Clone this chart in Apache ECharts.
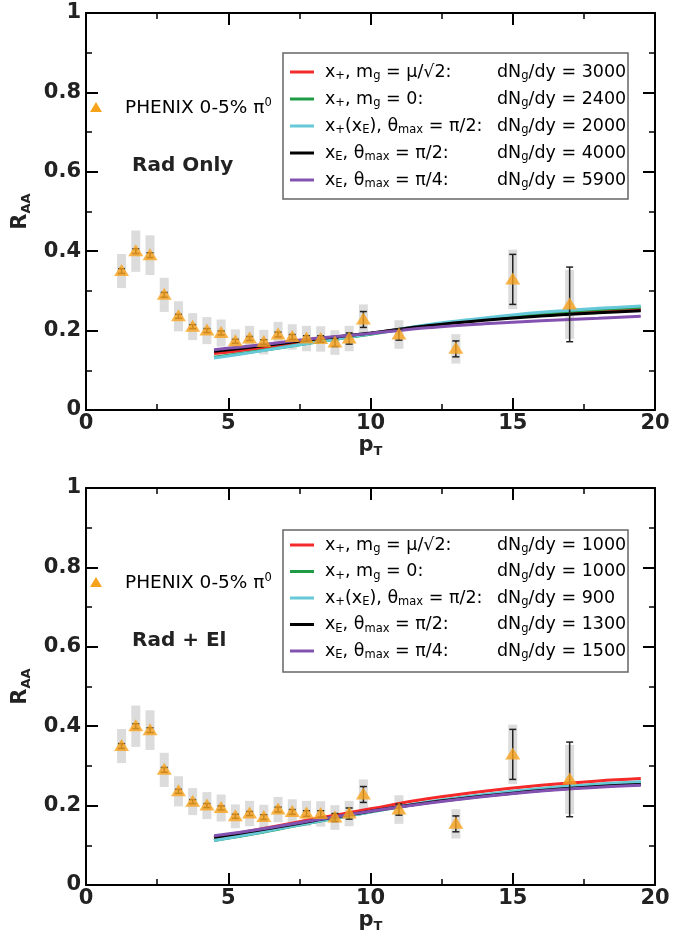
<!DOCTYPE html>
<html>
<head>
<meta charset="utf-8">
<script src="https://cdn.jsdelivr.net/npm/echarts@6/dist/echarts.min.js"></script>
<style>
html,body{margin:0;padding:0;background:#fff;}
#chart{width:691px;height:937px;}
</style>
</head>
<body>
<div id="chart"></div>
<script>
// ---- data ----
const pT = [1.25,1.75,2.25,2.75,3.25,3.75,4.25,4.75,5.25,5.75,6.25,6.75,7.25,7.75,8.25,8.75,9.25,9.75,11,13,15,17];
const raa = [0.35,0.40,0.39,0.29,0.236,0.21,0.20,0.194,0.173,0.18,0.171,0.19,0.184,0.18,0.179,0.17,0.18,0.228,0.19,0.154,0.329,0.266];
const statErr = [0.006,0.006,0.006,0.006,0.005,0.005,0.005,0.005,0.005,0.005,0.006,0.006,0.006,0.007,0.008,0.01,0.014,0.02,0.014,0.02,0.063,0.094];
const sysErr = [0.043,0.052,0.05,0.043,0.038,0.034,0.034,0.034,0.03,0.032,0.031,0.032,0.032,0.032,0.032,0.031,0.032,0.038,0.036,0.037,0.075,0.087];

const curveX = [4.5,6,8,10,12,14,16,18,19.5];
// Rad only
const radRed    = [0.142,0.155,0.175,0.193,0.213,0.228,0.240,0.248,0.254];
const radGreen  = [0.133,0.148,0.170,0.191,0.213,0.230,0.243,0.253,0.259];
const radCyan   = [0.131,0.147,0.170,0.192,0.215,0.232,0.246,0.256,0.262];
const radBlack  = [0.148,0.160,0.178,0.194,0.212,0.226,0.237,0.245,0.250];
const radPurple = [0.152,0.163,0.180,0.193,0.207,0.217,0.225,0.231,0.236];
// Rad + El
const elRed    = [0.120,0.139,0.166,0.192,0.217,0.236,0.251,0.262,0.268];
const elGreen  = [0.112,0.130,0.158,0.184,0.208,0.227,0.242,0.253,0.259];
const elCyan   = [0.112,0.131,0.158,0.184,0.209,0.228,0.243,0.254,0.260];
const elBlack  = [0.120,0.137,0.162,0.186,0.207,0.224,0.238,0.248,0.253];
const elPurple = [0.124,0.139,0.163,0.186,0.206,0.223,0.237,0.246,0.251];

const legendTopLabels = ['3000','2400','2000','4000','5900'];
const legendBotLabels = ['1000','1000','900','1300','1500'];
const yTickLabels = ['0','0.2','0.4','0.6','0.8','1'];

// ---- styles ----
const FONT = 'DejaVu Sans, Verdana, sans-serif';
const colors = {red:'#f42a2a', green:'#1f9a45', cyan:'#66c9d9', black:'#000000', purple:'#8352b0'};
const ORANGE = '#f7a21b';

const chart = echarts.init(document.getElementById('chart'), null, {renderer:'canvas'});

const grids = [
  {left:86, top:13, width:569, height:397},
  {left:86, top:488, width:569, height:397}
];

function mkXAxes(gi){
  const base = {
    gridIndex:gi, type:'value', min:0, max:20, interval:5,
    splitLine:{show:false},
    axisLine:{show:true, onZero:false, lineStyle:{color:'#000', width:2}},
    axisTick:{show:true, inside:true, length:12, lineStyle:{color:'#000', width:2}},
    minorTick:{show:true, splitNumber:2, length:6, lineStyle:{color:'#000', width:1.5}}
  };
  return [
    Object.assign({}, base, {
      position:'bottom',
      axisLabel:{fontSize:21, fontWeight:'bold', color:'#222', fontFamily:FONT, margin:3},
      name:'{m|p}{s|T}', nameLocation:'middle', nameGap:20,
      nameTextStyle:{rich:{
        m:{fontSize:21, fontWeight:'bold', color:'#222', fontFamily:FONT},
        s:{fontSize:13, fontWeight:'bold', color:'#222', fontFamily:FONT, padding:[12,0,0,0]}
      }}
    }),
    Object.assign({}, base, {position:'top', axisLabel:{show:false}})
  ];
}
function mkYAxes(gi){
  const base = {
    gridIndex:gi, type:'value', min:0, max:1, interval:0.2,
    splitLine:{show:false},
    axisLine:{show:true, onZero:false, lineStyle:{color:'#000', width:2}},
    axisTick:{show:true, inside:true, length:12, lineStyle:{color:'#000', width:2}},
    minorTick:{show:true, splitNumber:2, length:6, lineStyle:{color:'#000', width:1.5}}
  };
  return [
    Object.assign({}, base, {
      position:'left',
      axisLabel:{fontSize:21, fontWeight:'bold', color:'#222', fontFamily:FONT, margin:5,
        formatter:(v)=>yTickLabels[Math.round(v/0.2)]},
      name:'{m|R}{s|AA}', nameLocation:'middle', nameGap:52, nameRotate:90,
      nameTextStyle:{rich:{
        m:{fontSize:21, fontWeight:'bold', color:'#222', fontFamily:FONT},
        s:{fontSize:13, fontWeight:'bold', color:'#222', fontFamily:FONT, padding:[12,0,0,0]}
      }}
    }),
    Object.assign({}, base, {position:'right', axisLabel:{show:false}})
  ];
}

const xAxes = [...mkXAxes(0), ...mkXAxes(1)];
const yAxes = [...mkYAxes(0), ...mkYAxes(1)];

const ptData = pT.map((x,i)=>[x, raa[i], statErr[i], sysErr[i]]);

function panelSeries(gi, curves){
  const xi = gi*2, yi = gi*2;
  const s = [];
  s.push({
    type:'custom', xAxisIndex:xi, yAxisIndex:yi, z:1, silent:true,
    data:ptData,
    renderItem:(params, api)=>{
      const x = api.value(0), y = api.value(1), e = api.value(3);
      const p1 = api.coord([x, y+e]), p2 = api.coord([x, y-e]);
      return {type:'rect', shape:{x:p1[0]-4.5, y:p1[1], width:9, height:p2[1]-p1[1]},
        style:{fill:'#dcdcdc'}};
    }
  });
  const order = ['red','green','cyan','black','purple'];
  order.forEach(k=>{
    s.push({
      type:'line', xAxisIndex:xi, yAxisIndex:yi, z:2, smooth:0.35, showSymbol:false, symbol:'none',
      data:curveX.map((x,i)=>[x, curves[k][i]]),
      lineStyle:{color:colors[k], width:3}
    });
  });
  s.push({
    type:'custom', xAxisIndex:xi, yAxisIndex:yi, z:3, silent:true,
    data:ptData,
    renderItem:(params, api)=>{
      const x = api.value(0), y = api.value(1), e = api.value(2);
      const p1 = api.coord([x, y+e]), p2 = api.coord([x, y-e]);
      const c = p1[0];
      const st = {stroke:'#222', lineWidth:1.5};
      return {type:'group', children:[
        {type:'line', shape:{x1:c, y1:p1[1], x2:c, y2:p2[1]}, style:st},
        {type:'line', shape:{x1:c-3.5, y1:p1[1], x2:c+3.5, y2:p1[1]}, style:st},
        {type:'line', shape:{x1:c-3.5, y1:p2[1], x2:c+3.5, y2:p2[1]}, style:st}
      ]};
    }
  });
  s.push({
    name:'PHENIX', type:'scatter', xAxisIndex:xi, yAxisIndex:yi, z:4,
    symbol:'triangle', symbolSize:[15,12], symbolOffset:[0,-1],
    itemStyle:{color:ORANGE},
    data:ptData.map(d=>[d[0], d[1]])
  });
  return s;
}

const series = [
  ...panelSeries(0, {red:radRed, green:radGreen, cyan:radCyan, black:radBlack, purple:radPurple}),
  ...panelSeries(1, {red:elRed, green:elGreen, cyan:elCyan, black:elBlack, purple:elPurple})
];

// ---- legend graphics ----
const txtRich = {
  t:{fontSize:17.5, fontFamily:FONT, color:'#111'},
  s:{fontSize:11.5, fontFamily:FONT, color:'#111', padding:[9,0,0,0]},
  u:{fontSize:11.5, fontFamily:FONT, color:'#111', padding:[0,0,9,0]}
};
const leftLabels = [
  '{t|x}{s|+}{t|, m}{s|g}{t| = μ/√2:}',
  '{t|x}{s|+}{t|, m}{s|g}{t| = 0:}',
  '{t|x}{s|+}{t|(x}{s|E}{t|), θ}{s|max}{t| = π/2:}',
  '{t|x}{s|E}{t|, θ}{s|max}{t| = π/2:}',
  '{t|x}{s|E}{t|, θ}{s|max}{t| = π/4:}'
];
const lineOrder = ['red','green','cyan','black','purple'];

function legendBox(top, h, rowY0, rowDy, vals, tagText, tagY){
  const els = [];
  els.push({type:'rect', shape:{x:283, y:top, width:345, height:h},
    style:{fill:'#fff', stroke:'#666', lineWidth:1.5}, z:10});
  vals.forEach((v,i)=>{
    const y = rowY0 + i*rowDy;
    els.push({type:'line', shape:{x1:290, y1:y, x2:314, y2:y},
      style:{stroke:colors[lineOrder[i]], lineWidth:3}, z:11});
    els.push({type:'text', x:325, y:y, z:11,
      style:{text:leftLabels[i], rich:txtRich, verticalAlign:'middle', align:'left'}});
    els.push({type:'text', x:497, y:y, z:11,
      style:{text:'{t|dN}{s|g}{t|/dy = '+v+'}', rich:txtRich, verticalAlign:'middle', align:'left'}});
  });
  els.push({type:'polygon', shape:{points:[[96,tagY-6],[102,tagY+4],[90,tagY+4]]},
    style:{fill:ORANGE}, z:11});
  els.push({type:'text', x:125, y:tagY, z:11,
    style:{text:'{p|PHENIX 0-5% π}{u|0}', verticalAlign:'middle', align:'left',
      rich:{p:{fontSize:18.5, fontFamily:FONT, color:'#222'},
            u:{fontSize:11.5, fontFamily:FONT, color:'#222', padding:[0,0,9,0]}}}});
  els.push({type:'text', x:132, y:tagY+58, z:11,
    style:{text:tagText, fontSize:20, fontWeight:'bold', fontFamily:FONT, fill:'#222',
      verticalAlign:'middle', align:'left'}});
  return els;
}

const graphic = [
  ...legendBox(53, 146, 72, 27, legendTopLabels, 'Rad Only', 108),
  ...legendBox(530, 142, 545, 26.5, legendBotLabels, 'Rad + El', 583)
];

chart.setOption({
  animation:false,
  backgroundColor:'#fff',
  grid:grids,
  xAxis:xAxes,
  yAxis:yAxes,
  series:series,
  graphic:graphic
});
</script>
</body>
</html>
